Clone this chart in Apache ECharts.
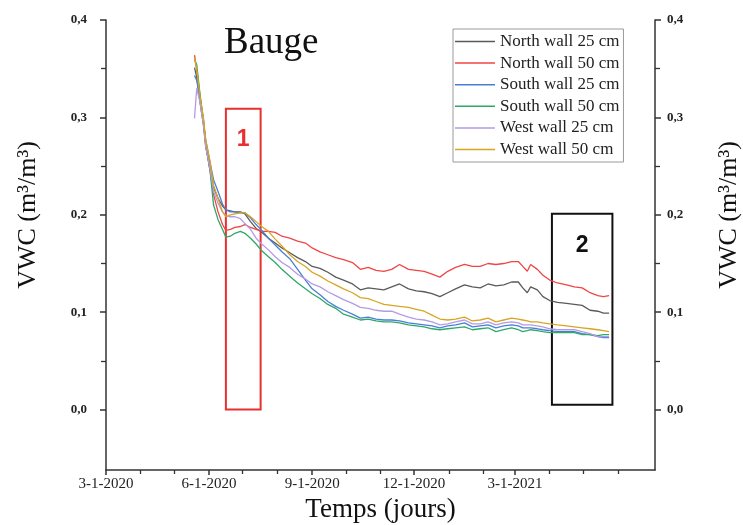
<!DOCTYPE html>
<html><head><meta charset="utf-8">
<script src="https://cdn.jsdelivr.net/npm/echarts@6/dist/echarts.min.js"></script>
<style>html,body{margin:0;padding:0;background:#fff}#c{width:743px;height:525px}</style>
</head><body><div id="c"></div>
<script>
const dates = ['2020-05-19','2020-05-21','2020-05-24','2020-05-27','2020-05-29','2020-06-02','2020-06-05','2020-06-09','2020-06-13','2020-06-16',
'2020-06-20','2020-06-24','2020-06-29','2020-07-03','2020-07-08','2020-07-13','2020-07-18','2020-07-24','2020-07-30','2020-08-05',
'2020-08-12','2020-08-19','2020-08-26','2020-09-01','2020-09-08','2020-09-15','2020-09-22','2020-09-29','2020-10-07','2020-10-14',
'2020-10-21','2020-10-28','2020-11-04','2020-11-11','2020-11-18','2020-11-26','2020-12-03','2020-12-10','2020-12-17','2020-12-24',
'2020-12-31','2021-01-07','2021-01-15','2021-01-22','2021-01-29','2021-02-05','2021-02-12','2021-02-19','2021-02-26','2021-03-04',
'2021-03-08','2021-03-12','2021-03-15','2021-03-21','2021-03-26','2021-04-01','2021-04-08','2021-04-16','2021-04-23','2021-04-30',
'2021-05-07','2021-05-14','2021-05-19','2021-05-24'];

const seriesNames = ['North wall 25 cm','North wall 50 cm','South wall 25 cm','South wall 50 cm','West wall 25 cm','West wall 50 cm'];

const northWall25 = [0.351,0.341,0.315,0.292,0.270,0.246,0.228,0.217,0.209,0.205,
0.204,0.203,0.203,0.201,0.193,0.186,0.182,0.176,0.171,0.166,
0.161,0.156,0.152,0.147,0.145,0.141,0.136,0.133,0.129,0.123,
0.125,0.124,0.123,0.126,0.129,0.124,0.122,0.121,0.119,0.116,
0.120,0.124,0.128,0.126,0.125,0.129,0.127,0.128,0.131,0.131,
0.125,0.120,0.126,0.123,0.116,0.112,0.110,0.109,0.108,0.107,
0.102,0.101,0.099,0.099];

const northWall50 = [0.364,0.349,0.320,0.297,0.272,0.244,0.221,0.203,0.190,0.184,
0.185,0.187,0.188,0.190,0.187,0.185,0.183,0.183,0.182,0.178,
0.176,0.173,0.171,0.166,0.162,0.159,0.156,0.154,0.151,0.144,
0.146,0.143,0.142,0.144,0.149,0.144,0.143,0.142,0.139,0.136,
0.142,0.146,0.149,0.147,0.147,0.150,0.149,0.150,0.152,0.152,
0.147,0.142,0.149,0.144,0.138,0.133,0.130,0.128,0.126,0.125,
0.120,0.117,0.116,0.117];

const southWall25 = [0.343,0.338,0.318,0.295,0.277,0.253,0.236,0.224,0.211,0.205,
0.203,0.203,0.202,0.202,0.197,0.190,0.184,0.176,0.169,0.162,
0.155,0.144,0.133,0.124,0.118,0.111,0.106,0.102,0.098,0.094,
0.095,0.093,0.092,0.092,0.091,0.089,0.088,0.087,0.086,0.084,
0.086,0.087,0.089,0.085,0.086,0.087,0.084,0.086,0.087,0.086,
0.084,0.084,0.084,0.083,0.082,0.081,0.080,0.080,0.080,0.078,
0.077,0.075,0.074,0.074];

const southWall50 = [0.359,0.354,0.323,0.297,0.274,0.244,0.210,0.195,0.185,0.177,
0.178,0.181,0.183,0.181,0.176,0.170,0.163,0.157,0.151,0.144,
0.137,0.130,0.124,0.119,0.114,0.108,0.104,0.098,0.095,0.092,
0.093,0.091,0.090,0.090,0.089,0.087,0.086,0.085,0.083,0.082,
0.083,0.084,0.085,0.082,0.083,0.084,0.080,0.082,0.084,0.082,
0.080,0.081,0.082,0.081,0.080,0.079,0.079,0.079,0.079,0.077,
0.077,0.076,0.077,0.077];

const westWall25 = [0.299,0.330,0.315,0.292,0.270,0.246,0.224,0.212,0.203,0.199,
0.198,0.198,0.196,0.191,0.185,0.176,0.170,0.164,0.157,0.151,
0.146,0.139,0.134,0.129,0.126,0.121,0.117,0.113,0.109,0.105,
0.104,0.102,0.101,0.101,0.098,0.095,0.093,0.092,0.090,0.087,
0.088,0.090,0.092,0.088,0.088,0.090,0.087,0.089,0.090,0.089,
0.087,0.087,0.087,0.086,0.085,0.083,0.082,0.082,0.082,0.080,
0.078,0.075,0.075,0.075];

const westWall50 = [0.361,0.349,0.321,0.299,0.277,0.254,0.230,0.217,0.203,0.198,
0.200,0.201,0.202,0.202,0.198,0.193,0.188,0.183,0.175,0.168,
0.159,0.152,0.147,0.141,0.137,0.132,0.128,0.124,0.120,0.115,
0.114,0.111,0.108,0.107,0.106,0.105,0.103,0.101,0.097,0.093,
0.092,0.093,0.095,0.091,0.092,0.094,0.090,0.092,0.094,0.093,
0.092,0.091,0.090,0.090,0.089,0.088,0.087,0.086,0.085,0.084,
0.083,0.082,0.081,0.080];

const seriesColors = ['#5a5a5a','#f04545','#4a7fd6','#2ea868','#b49be6','#d9a521'];

const xMajorTicks = ['2020-03-01','2020-06-01','2020-09-01','2020-12-01','2021-03-01'];
const xMinorTicks = ['2020-04-01','2020-05-01','2020-07-01','2020-08-01','2020-10-01','2020-11-01','2021-01-01','2021-02-01','2021-04-01','2021-05-01','2021-06-01'];
const xRange = ['2020-03-01','2021-07-04'];
const yMajorTicks = [0, 0.1, 0.2, 0.3, 0.4];
const yMinorTicks = [0.05, 0.15, 0.25, 0.35];
const yRange = [-0.062, 0.4];

// annotation boxes: [startDate, topValue, endDate, bottomValue, label]
const box1 = ['2020-06-16', 0.309, '2020-07-17', 0.0, '1'];
const box2 = ['2021-04-03', 0.201, '2021-05-27', 0.005, '2'];

function toTs(s) { const p = s.split('-').map(Number); return new Date(p[0], p[1]-1, p[2]).getTime(); }
function fmtDate(v) { const d = new Date(v); return (d.getMonth()+1) + '-' + d.getDate() + '-' + d.getFullYear(); }

const values = [northWall25, northWall50, southWall25, southWall50, westWall25, westWall50];
const serif = '"Liberation Serif", "Times New Roman", serif';
const axisColor = '#333';

const chart = echarts.init(document.getElementById('c'), null, {renderer: 'canvas'});

function xAxisBase(extra) {
  return Object.assign({
    type: 'value', position: 'bottom', min: toTs(xRange[0]), max: toTs(xRange[1]),
    scale: true, splitLine: {show: false}, minorTick: {show: false}
  }, extra);
}
function yAxisBase(pos, extra) {
  return Object.assign({
    type: 'value', position: pos, min: yRange[0], max: yRange[1],
    splitLine: {show: false}
  }, extra);
}

const yLabel = {
  customValues: yMajorTicks, formatter: v => v.toFixed(1).replace('.', ','),
  fontFamily: serif, fontSize: 13, fontWeight: 'bold', color: '#222'
};

const series = seriesNames.map((name, k) => ({
  name, type: 'line', xAxisIndex: 0, yAxisIndex: 0,
  showSymbol: false, symbol: 'none',
  data: dates.map((d, i) => [toTs(d), values[k][i]]),
  lineStyle: {width: 1.3, color: seriesColors[k]},
  itemStyle: {color: seriesColors[k]},
  z: 2 + k
}));

function boxItem(b, color) {
  return [
    {xAxis: toTs(b[0]), yAxis: b[1], name: b[4],
     itemStyle: {color: 'rgba(0,0,0,0)', borderColor: color, borderWidth: 2},
     label: {show: true, position: 'insideTop', distance: 21, formatter: b[4], color: color,
             fontSize: 23, fontWeight: 'bold', fontFamily: '"Liberation Sans", Arial, sans-serif'}},
    {xAxis: toTs(b[2]), yAxis: b[3]}
  ];
}
series[0].markArea = {silent: true, data: [boxItem(box1, '#e8302f'), boxItem(box2, '#111')]};

chart.setOption({
  animation: false,
  backgroundColor: '#fff',
  grid: {left: 106, right: 88, top: 20, bottom: 55, containLabel: false, outerBoundsMode: 'none'},
  legend: {
    data: seriesNames, orient: 'vertical', left: 453, top: 29,
    icon: 'rect', itemWidth: 40, itemHeight: 1.5, itemGap: 4.6,
    padding: [4, 4, 4, 2], borderColor: '#9a9a9a', borderWidth: 1,
    textStyle: {fontFamily: serif, fontSize: 17, lineHeight: 17, color: '#222'}
  },
  xAxis: [
    xAxisBase({
      axisLine: {show: true, onZero: false, lineStyle: {color: axisColor, width: 1.5}},
      axisTick: {show: true, customValues: xMajorTicks.map(toTs), length: 5, lineStyle: {color: axisColor, width: 1.5}},
      axisLabel: {show: true, customValues: xMajorTicks.map(toTs), formatter: v => fmtDate(v),
        fontFamily: serif, fontSize: 15, color: '#222', margin: 7, hideOverlap: false},
      name: 'Temps (jours)', nameLocation: 'middle', nameGap: 25,
      nameTextStyle: {fontFamily: serif, fontSize: 27, color: '#111'}
    }),
    xAxisBase({
      axisLine: {show: false, onZero: false},
      axisTick: {show: true, customValues: xMinorTicks.map(toTs), length: 4, lineStyle: {color: axisColor, width: 1.3}},
      axisLabel: {show: false}
    })
  ],
  yAxis: [
    yAxisBase('left', {
      axisLine: {show: true, onZero: false, lineStyle: {color: axisColor, width: 1.5}},
      axisTick: {show: true, customValues: yMajorTicks, length: 6, lineStyle: {color: axisColor, width: 1.5}},
      axisLabel: Object.assign({margin: 19}, yLabel)
    }),
    yAxisBase('left', {
      axisLine: {show: false, onZero: false},
      axisTick: {show: true, customValues: yMinorTicks, length: 5, lineStyle: {color: axisColor, width: 1.3}},
      axisLabel: {show: false}
    }),
    yAxisBase('right', {
      axisLine: {show: true, onZero: false, lineStyle: {color: axisColor, width: 1.5}},
      axisTick: {show: true, customValues: yMajorTicks, length: 6, lineStyle: {color: axisColor, width: 1.5}},
      axisLabel: Object.assign({margin: 12}, yLabel)
    }),
    yAxisBase('right', {
      axisLine: {show: false, onZero: false},
      axisTick: {show: true, customValues: yMinorTicks, length: 5, lineStyle: {color: axisColor, width: 1.3}},
      axisLabel: {show: false}
    })
  ],
  graphic: [
    {type: 'text', x: 224, y: 43, style: {text: 'Bauge', font: '37px ' + serif, fill: '#111', align: 'left', verticalAlign: 'middle'}},
    {type: 'text', x: 28, y: 215, rotation: Math.PI / 2, style: {text: 'VWC (m³/m³)', font: '26px ' + serif, fill: '#111', align: 'center', verticalAlign: 'middle'}},
    {type: 'text', x: 729, y: 215, rotation: Math.PI / 2, style: {text: 'VWC (m³/m³)', font: '26px ' + serif, fill: '#111', align: 'center', verticalAlign: 'middle'}}
  ],
  series
});
</script>
</body></html>
